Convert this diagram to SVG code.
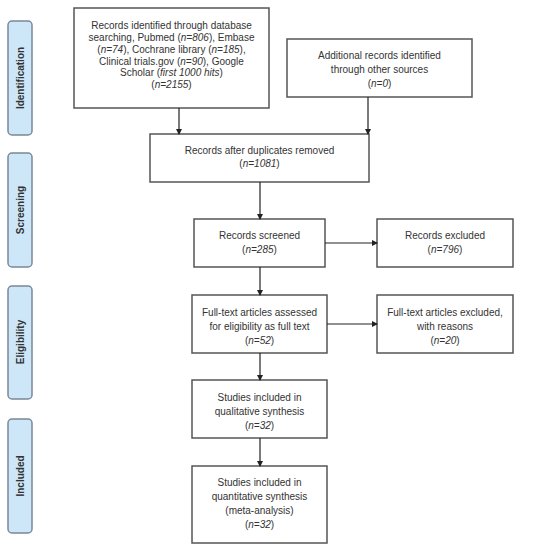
<svg xmlns="http://www.w3.org/2000/svg" width="549" height="550" viewBox="0 0 549 550">
<style>
.box{fill:#fff;stroke:#555;stroke-width:1.5}
.side{fill:#cde7f8;stroke:#7a8898;stroke-width:1.5}
.t{font-family:"Liberation Sans",Arial,sans-serif;font-size:10px;fill:#333;text-anchor:middle}
.s{font-family:"Liberation Sans",Arial,sans-serif;font-size:10px;font-weight:bold;fill:#333;text-anchor:middle}
.c{stroke:#222;stroke-width:1.2;fill:none;marker-end:url(#ah)}
</style>
<defs>
<marker id="ah" markerWidth="6" markerHeight="6" refX="5" refY="3" orient="auto" markerUnits="userSpaceOnUse">
<path d="M0,0 L6,3 L0,6 Z" fill="#222"/>
</marker>
</defs>
<rect width="549" height="550" fill="#fff"/>
<g id="phase-identification"><rect class="side" x="8" y="21" width="24" height="114" rx="4"/><text class="s" transform="translate(24,78) rotate(-90)">Identification</text></g>
<g id="phase-screening"><rect class="side" x="8" y="153" width="24" height="114" rx="4"/><text class="s" transform="translate(24,210) rotate(-90)">Screening</text></g>
<g id="phase-eligibility"><rect class="side" x="8" y="286" width="24" height="113" rx="4"/><text class="s" transform="translate(24,342) rotate(-90)">Eligibility</text></g>
<g id="phase-included"><rect class="side" x="8" y="419" width="24" height="114" rx="4"/><text class="s" transform="translate(24,476) rotate(-90)">Included</text></g>

<g id="n-database"><rect class="box" x="74" y="8" width="195" height="100"/>
<text class="t" x="171.5" y="28.5">Records identified through database</text>
<text class="t" x="171.5" y="40.5">searching, Pubmed (<tspan font-style="italic">n=806</tspan>), Embase</text>
<text class="t" x="171.5" y="52.5">(<tspan font-style="italic">n=74</tspan>), Cochrane library (<tspan font-style="italic">n=185</tspan>),</text>
<text class="t" x="171.5" y="64.5">Clinical trials.gov (<tspan font-style="italic">n=90</tspan>), Google</text>
<text class="t" x="171.5" y="76">Scholar (<tspan font-style="italic">first 1000 hits</tspan>)</text>
<text class="t" x="171.5" y="87.5">(<tspan font-style="italic">n=2155</tspan>)</text></g>
<g id="n-additional"><rect class="box" x="287" y="39" width="185" height="58"/>
<text class="t" x="379.5" y="58.5">Additional records identified</text>
<text class="t" x="379.5" y="73">through other sources</text>
<text class="t" x="379.5" y="86.5">(<tspan font-style="italic">n=0</tspan>)</text></g>
<g id="n-duplicates"><rect class="box" x="150" y="134" width="219" height="48"/>
<text class="t" x="259.5" y="153.5">Records after duplicates removed</text>
<text class="t" x="259.5" y="167">(<tspan font-style="italic">n=1081</tspan>)</text></g>
<g id="n-screened"><rect class="box" x="194" y="219" width="131" height="48"/>
<text class="t" x="259.5" y="238.5">Records screened</text>
<text class="t" x="259.5" y="252.5">(<tspan font-style="italic">n=285</tspan>)</text></g>
<g id="n-excluded"><rect class="box" x="377" y="219" width="136" height="48"/>
<text class="t" x="445" y="238.5">Records excluded</text>
<text class="t" x="445" y="252.5">(<tspan font-style="italic">n=796</tspan>)</text></g>
<g id="n-fulltext"><rect class="box" x="192" y="295" width="135" height="58"/>
<text class="t" x="259.5" y="315.5">Full-text articles assessed</text>
<text class="t" x="259.5" y="329.5">for eligibility as full text</text>
<text class="t" x="259.5" y="343.5">(<tspan font-style="italic">n=52</tspan>)</text></g>
<g id="n-ftexcluded"><rect class="box" x="377" y="295" width="136" height="58"/>
<text class="t" x="445" y="315.5">Full-text articles excluded,</text>
<text class="t" x="445" y="329.5">with reasons</text>
<text class="t" x="445" y="343.5">(<tspan font-style="italic">n=20</tspan>)</text></g>
<g id="n-qualitative"><rect class="box" x="192" y="380" width="135" height="58"/>
<text class="t" x="259.5" y="400.5">Studies included in</text>
<text class="t" x="259.5" y="414.5">qualitative synthesis</text>
<text class="t" x="259.5" y="428.5">(<tspan font-style="italic">n=32</tspan>)</text></g>
<g id="n-quantitative"><rect class="box" x="192" y="466" width="135" height="77"/>
<text class="t" x="259.5" y="485.5">Studies included in</text>
<text class="t" x="259.5" y="500">quantitative synthesis</text>
<text class="t" x="259.5" y="514">(meta-analysis)</text>
<text class="t" x="259.5" y="528">(<tspan font-style="italic">n=32</tspan>)</text></g>

<g id="connectors">
<line class="c" x1="179" y1="108" x2="179" y2="134"/>
<line class="c" x1="368" y1="97" x2="368" y2="134"/>
<line class="c" x1="260" y1="182" x2="260" y2="219"/>
<line class="c" x1="325" y1="243" x2="377" y2="243"/>
<line class="c" x1="260" y1="267" x2="260" y2="295"/>
<line class="c" x1="327" y1="324" x2="377" y2="324"/>
<line class="c" x1="260" y1="353" x2="260" y2="380"/>
<line class="c" x1="260" y1="438" x2="260" y2="466"/>
</g>
</svg>
